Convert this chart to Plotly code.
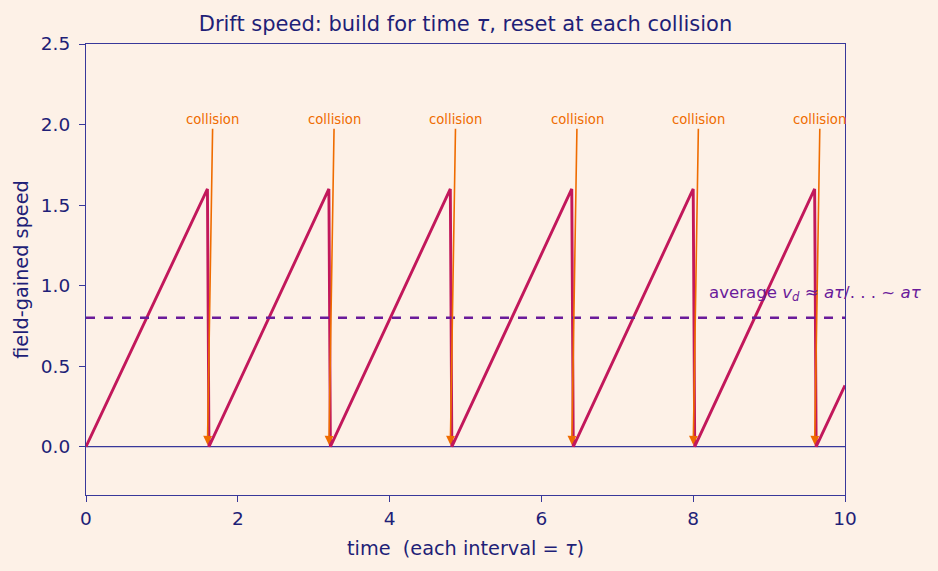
import plotly.graph_objects as go

# ---- data ----
tau = 1.6
saw_t = [0, 1.6, 1.62, 3.2, 3.22, 4.8, 4.82, 6.4, 6.42, 8.0, 8.02, 9.6, 9.62, 10.0]
saw_v = [0, 1.6, 0.0, 1.6, 0.0, 1.6, 0.0, 1.6, 0.0, 1.6, 0.0, 1.6, 0.0, 0.38]
collision_times = [1.6, 3.2, 4.8, 6.4, 8.0, 9.6]
avg_speed = 0.8
x_ticks = [0, 2, 4, 6, 8, 10]
y_ticks = [0.0, 0.5, 1.0, 1.5, 2.0, 2.5]

BG = "#fdf1e7"
NAVY = "#1f1f77"
SPINE = "#38389a"
CRIMSON = "#c2185b"
PURPLE = "#6a1b9a"
ORANGE = "#ef6c00"
FONT = "DejaVu Sans"

fig = go.Figure()
fig.add_trace(go.Scatter(x=saw_t, y=saw_v, mode="lines",
                         line=dict(color=CRIMSON, width=2.9), showlegend=False))
fig.add_trace(go.Scatter(x=[0, 10], y=[avg_speed, avg_speed], mode="lines",
                         line=dict(color=PURPLE, width=2.6, dash="dash"), showlegend=False))

fig.add_shape(type="line", x0=0, x1=10, y0=0, y1=0, xref="x", yref="y",
              line=dict(color=SPINE, width=1.2), layer="below")

for ct in collision_times:
    fig.add_annotation(x=ct, y=0.0, ax=ct + 0.07, ay=2.03, xref="x", yref="y",
                       axref="x", ayref="y", text="collision", showarrow=True,
                       arrowhead=2, arrowsize=1.1, arrowwidth=1.6, arrowcolor=ORANGE,
                       standoff=2, font=dict(family=FONT, size=13.2, color=ORANGE))

fig.add_annotation(x=8.18, y=0.95, xref="x", yref="y", xanchor="left", yanchor="middle",
                   text="average <i>v</i><sub><i>d</i></sub> ≈ <i>aτ</i>/. . . ~ <i>aτ</i>",
                   showarrow=False, font=dict(family=FONT, size=16.6, color=PURPLE))

fig.update_layout(
    width=938, height=571,
    paper_bgcolor=BG, plot_bgcolor=BG,
    margin=dict(l=86, r=93, t=44, b=76),
    font=dict(family=FONT, color=NAVY, size=18.5),
    title=dict(text="Drift speed: build for time <i>τ</i>, reset at each collision",
               x=(86 + 845) / 2 / 938, xanchor="center", y=1 - 24 / 571, yanchor="middle",
               font=dict(family=FONT, size=21, color=NAVY)),
    showlegend=False,
)
fig.update_xaxes(range=[0, 10], tickvals=x_ticks, showgrid=False, zeroline=False,
                 showline=True, mirror=True, linecolor=SPINE, linewidth=1.2,
                 ticks="outside", ticklen=6, tickcolor=SPINE, ticklabelstandoff=1,
                 tickfont=dict(size=18.5, color=NAVY),
                 title=dict(text="time  (each interval = <i>τ</i>)", font=dict(size=19.3, color=NAVY), standoff=13))
fig.update_yaxes(range=[-0.3, 2.5], tickvals=y_ticks, tickformat=".1f", showgrid=False, zeroline=False,
                 showline=True, mirror=True, linecolor=SPINE, linewidth=1.2,
                 ticks="outside", ticklen=6, tickcolor=SPINE, ticklabelstandoff=5,
                 tickfont=dict(size=18.5, color=NAVY),
                 title=dict(text="field-gained speed", font=dict(size=19.3, color=NAVY), standoff=7))

fig.write_html("out.html")
